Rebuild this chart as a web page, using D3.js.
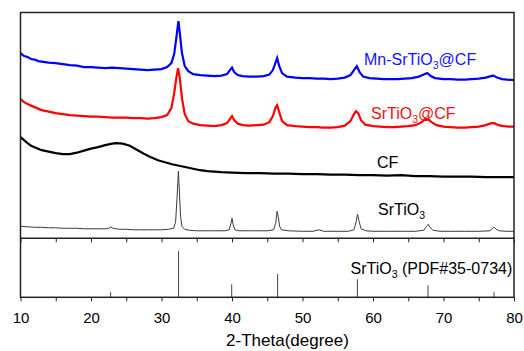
<!DOCTYPE html>
<html>
<head>
<meta charset="utf-8">
<script src="https://cdn.jsdelivr.net/npm/d3@7"></script>
<style>
  body { margin: 0; background: #fff; }
  text { font-family: Arial, "Liberation Sans", sans-serif; }
</style>
</head>
<body>
<div id="chart"></div>
<script>
// [2theta, intensity(a.u.)]
var mnSrTiO3CF = [[10,185],[10.5,182],[11,181],[11.5,179],[12,178.5],[12.5,177],[13,176.5],[14,175.5],[15,175],[16,174],[17,173],[18,172.5],[19,171],[20,171],[21,170.5],[22,170],[23,170.5],[24,170],[25,169.5],[26,169],[27,168.5],[28,168],[29,168.5],[30,169],[30.8,171],[31.4,175],[31.8,184],[32.1,200],[32.4,217],[32.6,205],[32.9,185],[33.3,172],[33.8,167],[34.5,164],[35.5,163],[36.5,162.5],[37.5,162],[38.5,162.5],[39.3,164],[39.7,168],[40.0,170.5],[40.3,166],[40.8,163],[41.5,162],[42.5,161.5],[43.5,161.5],[44.5,162],[45.3,163.5],[45.8,168],[46.2,176],[46.4,180],[46.7,172],[47.1,165],[47.8,161.5],[49,160.5],[50,160],[51,160],[52,159.5],[53,159.5],[54,159],[55,159.5],[56,160.5],[56.8,163],[57.3,168],[57.7,172],[58.1,166],[58.6,161.5],[59.5,160],[60.5,159.5],[61.5,159],[62.5,159],[63.5,159],[64.5,159.5],[65.5,160],[66.5,161.5],[67.2,163.5],[67.7,165],[68.2,162],[68.8,160],[70,159],[71,159],[72,158.5],[73,158.5],[74,159],[75,159.5],[76,160.5],[76.7,162],[77.1,162.5],[77.6,160.5],[78.3,159],[79,158.5],[80,158]];

var srTiO3CF = [[10,139],[10.5,136],[11,134],[11.5,132.5],[12,131],[12.5,129.5],[13,128],[14,126.5],[15,125],[16,124],[17,123],[18,122.5],[19,122],[20,121.5],[21,121.5],[22,121],[23,120.5],[24,120.5],[25,120.5],[26,120],[27,120],[28,119.5],[29,120],[30,121],[30.8,123],[31.4,130],[31.8,145],[32.1,160],[32.35,170],[32.6,160],[32.9,140],[33.3,124],[33.8,117],[34.5,114.5],[35.5,113],[36.5,112.5],[37.5,112],[38.5,113],[39.3,115],[39.7,119],[40.0,122],[40.3,118],[40.8,114.5],[41.5,113],[42.5,112.5],[43.5,113],[44.5,113.5],[45.3,116],[45.8,122],[46.2,131],[46.4,133],[46.7,126],[47.1,117],[47.8,113],[49,112],[50,111.5],[51,111],[52,111],[53,110.5],[54,110.5],[55,111],[56,112.5],[56.8,117],[57.3,124],[57.6,127],[57.9,125],[58.3,118],[58.9,113.5],[60,112],[61,111.5],[62,111],[63,111],[64,111.5],[65,112],[66,113],[66.8,115.5],[67.4,119],[67.8,119],[68.3,116],[69,113],[70,111.5],[71,111],[72,110.5],[73,110.5],[74,111],[75,111.5],[76,113],[76.8,115],[77.2,115],[77.8,113],[78.5,112],[79.3,111.5],[80,111.5]];

var cf = [[10,101],[10.5,98],[11,95],[11.5,92.5],[12,91],[12.5,89.5],[13,88],[14,86.5],[15,85],[16,84],[17,84],[18,85.5],[19,87.5],[20,89.5],[21,91],[22,93],[23,94.5],[23.6,95],[24.5,94.5],[25.5,92.5],[26.5,88.5],[27.5,84.5],[28.5,81],[29.5,78],[30.5,76],[31.5,74],[32.5,72.5],[33.5,71],[34.5,69.5],[35.5,68],[36.5,67],[37.5,66.5],[38.5,66],[40,65.5],[42,65],[44,65],[46,64.5],[48,64.5],[50,64],[52,64],[54,63.5],[56,63.5],[58,63],[60,63],[62,62.5],[64,63],[66,62],[68,62],[70,61.5],[72,61.5],[74,61.5],[76,61],[78,61],[80,61]];

var srTiO3 = [[10,12],[11,11.5],[12,11],[13,11],[14,10.5],[15,10.5],[16,10],[17,10],[18,10],[19,9.5],[20,9.5],[21,9.5],[22,9.5],[22.5,10],[22.8,11.5],[23.1,10],[24,9],[25,9],[26,8.5],[27,8.5],[28,8.5],[29,8.5],[30,8.5],[31,9],[31.7,10],[32.0,16],[32.2,40],[32.4,67],[32.55,45],[32.7,22],[32.9,12],[33.3,9],[34,8],[35,7.5],[36,7.5],[37,7.5],[38,7.5],[39,7.5],[39.6,8.5],[39.85,15],[40.0,20],[40.15,14],[40.4,8.5],[41,7.5],[42,7.5],[43,7.5],[44,7.5],[45,7.5],[45.9,8.5],[46.2,15],[46.4,27],[46.55,22],[46.75,12],[47.0,8.5],[48,7.5],[50,7],[51.5,7],[52.3,8.5],[53,7],[55,7],[56.5,7],[57.3,8.5],[57.6,16],[57.8,24],[58.0,18],[58.3,9.5],[59,7.5],[60,7],[62,7],[64,7],[66,7],[67.2,8],[67.6,12],[67.85,14],[68.1,11],[68.5,8],[69.5,7],[71,7],[73,7],[75,7],[76.6,7.5],[76.95,10],[77.2,11],[77.5,9],[77.9,7.5],[79,7],[80,7]];

// PDF#35-0734 reference sticks
var refAngles = [22.78, 32.42, 39.96, 46.47, 57.79, 67.80, 77.17];
var refInt = [11, 100, 28, 50, 39, 26, 11];

var xTicks = [10, 20, 30, 40, 50, 60, 70, 80];
var xMinor = [10, 15, 20, 25, 30, 35, 40, 45, 50, 55, 60, 65, 70, 75, 80];

var W = 524, H = 351;
var pLeft = 20.5, pRight = 514, pTop = 12.5, pMid = 238.3, pBottom = 297.3;

var svg = d3.select("#chart").append("svg")
  .attr("width", W)
  .attr("height", H);

var x = d3.scaleLinear().domain([10, 80]).range([pLeft, pRight]);
var yTop = d3.scaleLinear().domain([0, 225]).range([pMid, pTop + 0.5]);
var yRef = d3.scaleLinear().domain([0, 127]).range([pBottom, pMid]);

var line = d3.line()
  .x(function(d) { return x(d[0]); })
  .y(function(d) { return yTop(d[1]); });

// curves
svg.append("path").datum(srTiO3)
  .attr("d", line).attr("fill", "none")
  .attr("stroke", "#3a3a3a").attr("stroke-width", 1);

svg.append("path").datum(cf)
  .attr("d", line).attr("fill", "none")
  .attr("stroke", "#000").attr("stroke-width", 2.2);

svg.append("path").datum(srTiO3CF)
  .attr("d", line).attr("fill", "none")
  .attr("stroke", "#ff0000").attr("stroke-width", 2.2);

svg.append("path").datum(mnSrTiO3CF)
  .attr("d", line).attr("fill", "none")
  .attr("stroke", "#0000ff").attr("stroke-width", 2.2);

// reference sticks
svg.selectAll(".stick")
  .data(refAngles)
  .enter().append("line")
  .attr("class", "stick")
  .attr("x1", function(d) { return x(d); })
  .attr("x2", function(d) { return x(d); })
  .attr("y1", yRef(0))
  .attr("y2", function(d, i) { return yRef(refInt[i]); })
  .attr("stroke", "#444")
  .attr("stroke-width", 1);

// frame + divider
svg.append("rect")
  .attr("x", pLeft).attr("y", pTop)
  .attr("width", pRight - pLeft).attr("height", pBottom - pTop)
  .attr("fill", "none").attr("stroke", "#222").attr("stroke-width", 1.5);

svg.append("line")
  .attr("x1", pLeft).attr("x2", pRight)
  .attr("y1", pMid).attr("y2", pMid)
  .attr("stroke", "#222").attr("stroke-width", 1.5);

// ticks (pointing down on both axes)
var midAxis = svg.append("g")
  .attr("transform", "translate(0," + pMid + ")")
  .call(d3.axisBottom(x).tickValues(xMinor).tickSize(4).tickFormat(""));
midAxis.select(".domain").remove();

var botAxis = svg.append("g")
  .attr("transform", "translate(0," + pBottom + ")")
  .call(d3.axisBottom(x).tickValues(xMinor).tickSize(4).tickPadding(11)
    .tickFormat(function(d) { return xTicks.indexOf(d) >= 0 ? d : ""; }));
botAxis.select(".domain").remove();
botAxis.selectAll("line").attr("stroke", "#222");
midAxis.selectAll("line").attr("stroke", "#222");
botAxis.selectAll("text")
  .style("font-size", "15px")
  .style("font-family", "Arial, 'Liberation Sans', sans-serif")
  .attr("fill", "#000");

svg.append("text")
  .attr("x", 287.5).attr("y", 345.5)
  .attr("text-anchor", "middle")
  .style("font-size", "17px")
  .text("2-Theta(degree)");

// labels with subscript 3
function label(xp, yp, pre, post, color) {
  var t = svg.append("text")
    .attr("x", xp).attr("y", yp)
    .attr("fill", color)
    .style("font-size", "16px");
  t.append("tspan").text(pre);
  t.append("tspan").attr("dy", 4).style("font-size", "10.5px").text("3");
  t.append("tspan").attr("dy", -4).text(post);
}

label(364, 65, "Mn-SrTiO", "@CF", "#1414ff");
label(371, 118.5, "SrTiO", "@CF", "#f01010");
svg.append("text").attr("x", 377).attr("y", 168).style("font-size", "16px").text("CF");
label(378, 215, "SrTiO", "", "#000");
label(350.5, 274, "SrTiO", " (PDF#35-0734)", "#000");
</script>
</body>
</html>
